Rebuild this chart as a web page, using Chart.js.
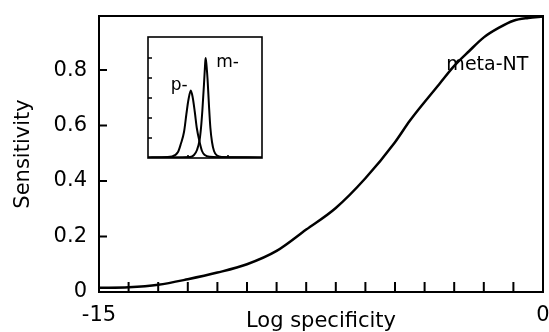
<!DOCTYPE html>
<html>
<head>
<meta charset="utf-8">
<script src="https://cdn.jsdelivr.net/npm/chart.js@4.4.1/dist/chart.umd.min.js"></script>
<style>
    body { margin: 0; background: #fff; }
    #wrap { position: relative; width: 549px; height: 332px; }
    #inset_chart { position: absolute; left: 146px; top: 35px; }
</style>
</head>
<body>
<div id="wrap">
    <canvas id="roc_chart" width="549" height="332"></canvas>
    <canvas id="inset_chart" width="118" height="125"></canvas>
</div>
<script>
// meta-NT curve
var logSpec = [-15, -14, -13, -12, -11, -10, -9, -8, -7, -6, -5, -4.5, -4, -3.5, -3, -2.5, -2, -1.5, -1, -0.5, 0];
var sensitivity = [0.015, 0.017, 0.026, 0.046, 0.07, 0.1, 0.148, 0.225, 0.303, 0.41, 0.54, 0.617, 0.685, 0.75, 0.815, 0.868, 0.918, 0.952, 0.978, 0.988, 0.993];
var yTicks = [0, 0.2, 0.4, 0.6, 0.8];
var xTickLabels = { '-15': '-15', '0': '0' };

// inset peaks
var pX = [0, 0.3, 0.6, 0.75, 0.82, 0.9, 0.96, 1.01, 1.07, 1.12, 1.17, 1.22, 1.29, 1.35, 1.42, 1.55, 1.8, 2.85];
var pY = [0.03, 0.04, 0.08, 0.3, 0.7, 1.3, 2.2, 2.9, 3.37, 3.0, 2.3, 1.5, 0.8, 0.35, 0.15, 0.06, 0.04, 0.03];
var mX = [0, 1.05, 1.15, 1.225, 1.29, 1.325, 1.36, 1.4, 1.425, 1.44, 1.46, 1.49, 1.525, 1.56, 1.6, 1.65, 1.725, 1.85, 2.85];
var mY = [0.03, 0.05, 0.15, 0.4, 0.9, 1.5, 2.4, 3.7, 4.6, 5.0, 4.7, 3.9, 2.6, 1.5, 0.8, 0.35, 0.12, 0.05, 0.03];

var FONT = '"DejaVu Sans", sans-serif';

function toPoints(xs, ys) {
    return xs.map(function (x, i) { return { x: x, y: ys[i] }; });
}

// frame + inward tick marks
var framePlugin = {
    id: 'frame',
    afterDraw: function (chart, args, opts) {
        var ctx = chart.ctx, a = chart.chartArea;
        var xs = chart.scales.x, ys = chart.scales.y;
        ctx.save();
        ctx.strokeStyle = '#000';
        ctx.lineWidth = opts.lineWidth;
        ctx.strokeRect(a.left, a.top, a.right - a.left, a.bottom - a.top);
        ctx.beginPath();
        opts.xMarks.forEach(function (v) {
            var px = xs.getPixelForValue(v);
            ctx.moveTo(px, a.bottom);
            ctx.lineTo(px, a.bottom - opts.xLen);
        });
        opts.yMarks.forEach(function (v) {
            var py = ys.getPixelForValue(v);
            ctx.moveTo(a.left, py);
            ctx.lineTo(a.left + opts.yLen, py);
        });
        ctx.stroke();
        (opts.labels || []).forEach(function (l) {
            ctx.font = l.size + 'px ' + FONT;
            ctx.fillStyle = '#000';
            ctx.textAlign = 'center';
            ctx.textBaseline = 'alphabetic';
            ctx.fillText(l.text, xs.getPixelForValue(l.x), ys.getPixelForValue(l.y));
        });
        ctx.restore();
    }
};

var whiteBg = {
    id: 'whiteBg',
    beforeDraw: function (chart) {
        var ctx = chart.ctx;
        ctx.save();
        ctx.fillStyle = '#fff';
        ctx.fillRect(0, 0, chart.width, chart.height);
        ctx.restore();
    }
};

new Chart(document.getElementById('roc_chart').getContext('2d'), {
    type: 'line',
    data: {
        datasets: [{
            label: 'meta-NT',
            data: toPoints(logSpec, sensitivity),
            borderColor: '#000',
            borderWidth: 2.5,
            pointRadius: 0,
            cubicInterpolationMode: 'monotone',
            fill: false
        }]
    },
    options: {
        responsive: false,
        animation: false,
        layout: { padding: { top: 16, right: 6, left: 0, bottom: 0 } },
        plugins: {
            legend: { display: false },
            tooltip: { enabled: false },
            frame: {
                lineWidth: 2,
                xLen: 10,
                yLen: 8,
                xMarks: logSpec.filter(function (v) { return v > -15 && v < 0 && v % 1 === 0; }),
                yMarks: yTicks.slice(1),
                labels: [{ text: 'meta-NT', x: -1.88, y: 0.8, size: 19 }]
            }
        },
        scales: {
            x: {
                type: 'linear',
                min: -15,
                max: 0,
                afterFit: function (s) {
                    s.height = 40;
                    s.paddingLeft = 0;
                    s.paddingRight = 0;
                },
                grid: { display: false, drawTicks: false },
                border: { display: false },
                ticks: {
                    stepSize: 1,
                    autoSkip: false,
                    maxRotation: 0,
                    padding: 11,
                    color: '#000',
                    font: { family: FONT, size: 21 },
                    callback: function (v) { return xTickLabels[String(v)] || ''; }
                },
                title: {
                    display: true,
                    text: 'Log specificity',
                    color: '#000',
                    padding: 0,
                    font: { family: FONT, size: 21, lineHeight: 1 }
                }
            },
            y: {
                min: 0,
                max: 0.995,
                afterFit: function (s) {
                    s.width = 99;
                    s.paddingTop = 0;
                    s.paddingBottom = 0;
                },
                grid: { display: false, drawTicks: false },
                border: { display: false },
                afterBuildTicks: function (s) {
                    s.ticks = yTicks.map(function (v) { return { value: v }; });
                },
                ticks: {
                    padding: 12,
                    color: '#000',
                    font: { family: FONT, size: 21 },
                    callback: function (v) { return v === 0 ? '0' : v.toFixed(1); }
                },
                title: {
                    display: true,
                    text: 'Sensitivity',
                    color: '#000',
                    padding: { top: 13, bottom: 0 },
                    font: { family: FONT, size: 21, lineHeight: 1 }
                }
            }
        }
    },
    plugins: [framePlugin]
});

new Chart(document.getElementById('inset_chart').getContext('2d'), {
    type: 'line',
    data: {
        datasets: [{
            label: 'p-',
            data: toPoints(pX, pY),
            borderColor: '#000',
            borderWidth: 2,
            pointRadius: 0,
            cubicInterpolationMode: 'monotone'
        }, {
            label: 'm-',
            data: toPoints(mX, mY),
            borderColor: '#000',
            borderWidth: 2,
            pointRadius: 0,
            cubicInterpolationMode: 'monotone'
        }]
    },
    options: {
        responsive: false,
        animation: false,
        layout: { padding: 2 },
        plugins: {
            legend: { display: false },
            tooltip: { enabled: false },
            frame: {
                lineWidth: 1.6,
                xLen: 3,
                yLen: 4,
                xMarks: [1, 2],
                yMarks: [1, 2, 3, 4, 5],
                labels: [
                    { text: 'p-', x: 0.78, y: 3.4, size: 17 },
                    { text: 'm-', x: 1.99, y: 4.57, size: 17 }
                ]
            }
        },
        scales: {
            x: { type: 'linear', min: 0, max: 2.85, display: false },
            y: { min: 0, max: 6.05, display: false }
        }
    },
    plugins: [whiteBg, framePlugin]
});
</script>
</body>
</html>
